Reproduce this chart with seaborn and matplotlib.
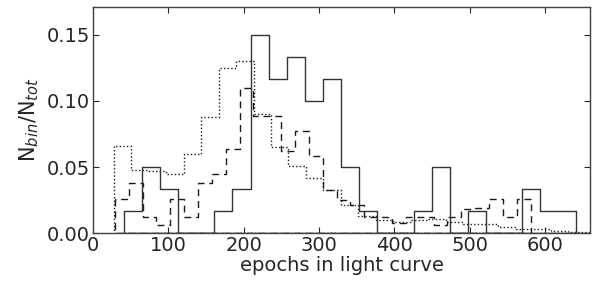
import numpy as np
import pandas as pd
import matplotlib
matplotlib.use("Agg")
import matplotlib.pyplot as plt
import seaborn as sns

# fraction of objects per bin (N_bin / N_tot)
solid_edges = np.linspace(41, 642, 26)
solid_frac = [0.0167, 0.05, 0.0333, 0, 0, 0.0167, 0.0333, 0.15, 0.1167, 0.1333,
              0.1, 0.1167, 0.05, 0.0167, 0, 0, 0.0167, 0.05, 0, 0.0167,
              0, 0, 0.0333, 0.0167, 0.0167]

dashed_edges = np.linspace(29, 581, 31)
dashed_frac = [0.026, 0.038, 0.0124, 0.006, 0.026, 0.0124, 0.038, 0.045, 0.064, 0.11,
               0.089, 0.089, 0.062, 0.077, 0.058, 0.0326, 0.025, 0.021, 0.0124, 0.0124,
               0.008, 0.0124, 0.0124, 0.006, 0.0124, 0.0186, 0.019, 0.0255, 0.0124, 0.0255]

dotted_edges = np.linspace(27.6, 677.2, 29)
dotted_frac = [0.066, 0.048, 0.047, 0.045, 0.06, 0.088, 0.125, 0.13, 0.09, 0.065,
               0.051, 0.042, 0.033, 0.021, 0.0129, 0.0099, 0.0085, 0.0099, 0.011, 0.0086,
               0.0068, 0.0068, 0.005, 0.0035, 0.0035, 0.0015, 0.0012, 0.0005]

sns.set_style("ticks")
plt.rcParams.update({
    "font.family": ["DejaVu Sans"],
    "font.size": 14,
    "xtick.direction": "in",
    "ytick.direction": "in",
    "xtick.top": True,
    "ytick.right": True,
    "xtick.major.size": 4,
    "ytick.major.size": 4,
    "axes.edgecolor": "0.25",
    "axes.linewidth": 1.0,
})

fig = plt.figure(figsize=(5.96, 2.85), dpi=100)
ax = fig.add_axes([0.156, 0.182, 0.834, 0.793])

series = [
    (dotted_edges, dotted_frac, (0, (1, 1.6)), "0.1"),
    (dashed_edges, dashed_frac, (0, (5, 3.5)), "0.1"),
    (solid_edges, solid_frac, "-", "0.2"),
]
for edges, frac, ls, col in series:
    centers = (edges[:-1] + edges[1:]) / 2
    df = pd.DataFrame({"epochs": centers, "frac": frac})
    sns.histplot(data=df, x="epochs", weights="frac", bins=list(edges), element="step",
                 fill=True, color=col, facecolor="none", edgecolor=col, alpha=1,
                 linestyle=ls, linewidth=1.0, ax=ax)

ax.set_xlim(0, 660)
ax.set_ylim(0, 0.171)
ax.set_xticks([0, 100, 200, 300, 400, 500, 600])
ax.set_yticks([0, 0.05, 0.10, 0.15])
ax.set_yticklabels(["0.00", "0.05", "0.10", "0.15"])
ax.tick_params(labelsize=14, pad=2)
ax.set_xlabel("epochs in light curve", fontsize=14, labelpad=1)
ax.set_ylabel(r"N$_{bin}$/N$_{tot}$", fontsize=15, labelpad=4)

fig.savefig("out.png", dpi=100)
